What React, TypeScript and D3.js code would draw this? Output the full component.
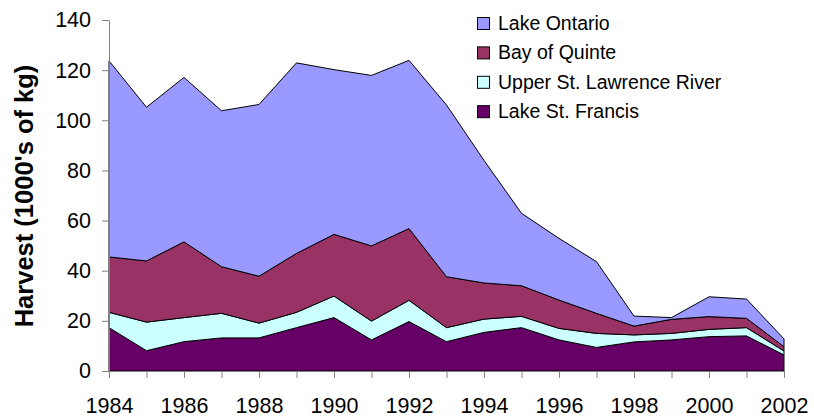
import React, { useEffect, useRef } from "react";
import * as d3 from "d3";

const years = [1984, 1985, 1986, 1987, 1988, 1989, 1990, 1991, 1992, 1993, 1994, 1995, 1996, 1997, 1998, 1999, 2000, 2001, 2002];
const lakeStFrancis = [17.3, 8.1, 11.7, 13.2, 13.2, 17.3, 21.3, 12.4, 19.7, 11.7, 15.4, 17.3, 12.4, 9.4, 11.6, 12.4, 13.7, 14.0, 6.4];
const upperStLawrence = [6.1, 11.4, 9.6, 9.8, 5.9, 6.1, 8.6, 7.5, 8.5, 5.6, 5.3, 4.5, 4.6, 5.6, 2.8, 2.6, 2.9, 3.3, 1.6];
const bayOfQuinte = [22.1, 24.4, 30.2, 18.6, 18.7, 23.5, 24.6, 30.0, 28.6, 20.3, 14.4, 12.2, 11.3, 8.0, 3.5, 5.6, 5.1, 3.7, 1.7];
const lakeOntario = [78.2, 61.3, 65.6, 62.2, 68.5, 76.0, 65.7, 68.0, 67.1, 68.5, 48.9, 28.9, 24.6, 20.6, 4.0, 0.7, 7.9, 7.7, 3.1];
const yTicks = [0, 20, 40, 60, 80, 100, 120, 140];
const xLabels = [1984, 1986, 1988, 1990, 1992, 1994, 1996, 1998, 2000, 2002];

const series = [
  { key: "lsf", name: "Lake St. Francis", values: lakeStFrancis, color: "#660066" },
  { key: "upper", name: "Upper St. Lawrence River", values: upperStLawrence, color: "#CCFFFF" },
  { key: "bay", name: "Bay of Quinte", values: bayOfQuinte, color: "#993366" },
  { key: "ont", name: "Lake Ontario", values: lakeOntario, color: "#9999FF" },
];

export default function App() {
  const ref = useRef<SVGSVGElement>(null);

  useEffect(() => {
    const svg = d3.select(ref.current);
    svg.selectAll("*").remove();

    const font = "Arial, 'Liberation Sans', sans-serif";
    const x = d3.scaleLinear().domain([1984, 2002]).range([109, 784]);
    const y = d3.scaleLinear().domain([0, 140]).range([371, 20]);

    const table = years.map((yr, i) => {
      const row: any = { year: yr };
      series.forEach((s) => (row[s.key] = s.values[i]));
      return row;
    });
    const stacked = d3.stack().keys(series.map((s) => s.key))(table);

    const area = d3
      .area<any>()
      .x((d) => x(d.data.year))
      .y0((d) => y(d[0]))
      .y1((d) => y(d[1]));

    svg
      .append("g")
      .selectAll("path")
      .data(stacked)
      .enter()
      .append("path")
      .attr("d", area)
      .attr("fill", (d, i) => series[i].color)
      .attr("stroke", "#000")
      .attr("stroke-width", 1)
      .attr("stroke-linejoin", "round");

    // axes
    const axisColor = "#808080";
    const yAxis = d3.axisLeft(y).tickValues(yTicks).tickSize(7).tickSizeOuter(0).tickPadding(11);
    svg
      .append("g")
      .attr("transform", "translate(109,0)")
      .call(yAxis)
      .call((g) => g.select(".domain").attr("stroke", axisColor))
      .call((g) => g.selectAll("line").attr("stroke", axisColor))
      .call((g) =>
        g.selectAll("text").attr("fill", "#000").style("font", `21.5px ${font}`)
      );

    const xAxis = d3
      .axisBottom(x)
      .tickValues(years)
      .tickSize(7)
      .tickSizeOuter(0)
      .tickFormat((d: any) => (xLabels.includes(d) ? String(d) : ""));
    svg
      .append("g")
      .attr("transform", "translate(0,371)")
      .call(xAxis)
      .call((g) => g.select(".domain").attr("stroke", axisColor))
      .call((g) => g.selectAll("line").attr("stroke", axisColor))
      .call((g) =>
        g
          .selectAll("text")
          .attr("fill", "#000")
          .attr("y", 42)
          .attr("dy", 0)
          .style("font", `21.5px ${font}`)
      );

    // y label
    svg
      .append("text")
      .attr("transform", "translate(33,196) rotate(-90)")
      .attr("text-anchor", "middle")
      .style("font", `bold 25.5px ${font}`)
      .text("Harvest (1000's of kg)");

    // legend
    const legendOrder = [...series].reverse();
    const lg = svg.append("g").attr("transform", "translate(477,17)");
    legendOrder.forEach((s, i) => {
      const row = lg.append("g").attr("transform", `translate(0,${i * 29.4})`);
      row
        .append("rect")
        .attr("x", 0.5)
        .attr("y", 0.5)
        .attr("width", 12)
        .attr("height", 12)
        .attr("fill", s.color)
        .attr("stroke", "#000")
        .attr("stroke-width", 1);
      row
        .append("text")
        .attr("x", 21)
        .attr("y", 13)
        .style("font", `19.5px ${font}`)
        .text(s.name);
    });
  }, []);

  return (
    <div style={{ position: "absolute", left: 0, top: 0 }}>
      <svg ref={ref} width={814} height={418} style={{ display: "block", background: "#fff" }} />
    </div>
  );
}
